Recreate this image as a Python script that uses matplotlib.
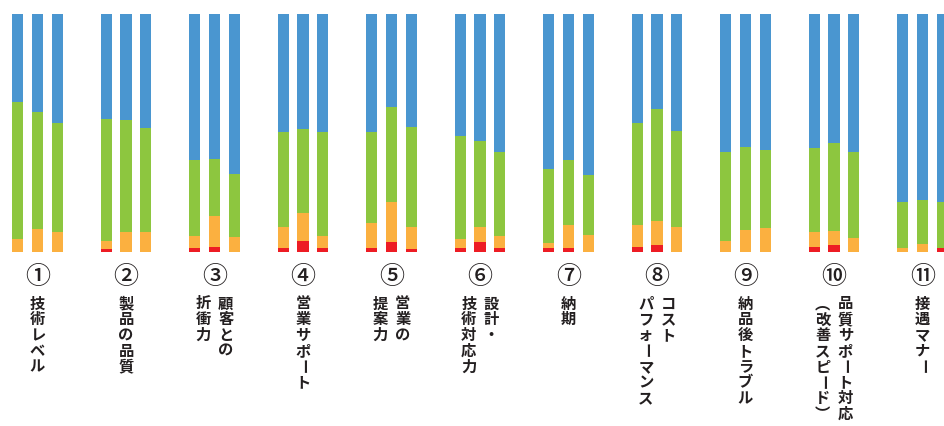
import matplotlib.pyplot as plt
import numpy as np

plt.rcParams['font.family'] = ['Noto Sans CJK JP', 'DejaVu Sans']

# circled numbers and label columns (right column first, as in vertical writing)
numbers = ['①', '②', '③', '④', '⑤', '⑥', '⑦', '⑧', '⑨', '⑩', '⑪']
labels = [
    ['技術レベル'],
    ['製品の品質'],
    ['顧客との', '折衝力'],
    ['営業サポート'],
    ['営業の', '提案力'],
    ['設計・', '技術対応力'],
    ['納期'],
    ['コスト', 'パフォーマンス'],
    ['納品後トラブル'],
    ['品質サポート対応', '︵改善スピード︶'],
    ['接遇マナー'],
]

# percentages per group, three bars each (bottom to top: red, orange, green, blue)
red = [
    (0, 0, 0), (1.3, 0, 0), (1.7, 2.1, 0), (1.7, 4.6, 1.7), (1.7, 4.2, 1.3),
    (1.7, 4.2, 1.7), (1.7, 1.7, 0), (2.1, 2.9, 0), (0, 0, 0), (2.1, 2.9, 0),
    (0, 0, 1.7),
]
orange = [
    (5.5, 9.6, 8.4), (3.3, 8.4, 8.4), (5.0, 13.0, 6.3), (8.8, 11.8, 5.0),
    (10.5, 16.8, 9.2), (3.8, 6.3, 5.0), (2.1, 9.6, 7.1), (9.2, 10.1, 10.5),
    (4.6, 9.2, 10.1), (6.3, 5.9, 5.9), (1.7, 3.4, 0),
]
green = [
    (57.4, 49.1, 45.7), (51.2, 46.9, 43.6), (31.9, 23.9, 26.4), (39.8, 35.2, 43.6),
    (38.1, 39.8, 41.9), (43.1, 36.0, 35.2), (31.0, 27.3, 25.2), (42.8, 47.0, 40.2),
    (37.3, 34.8, 32.7), (35.2, 36.9, 36.0), (19.3, 18.4, 19.3),
]
blue = [
    (37.1, 41.3, 45.9), (44.2, 44.7, 48.0), (61.4, 61.0, 67.3), (49.7, 48.4, 49.7),
    (49.7, 39.2, 47.6), (51.4, 53.5, 58.1), (65.2, 61.4, 67.7), (45.9, 40.0, 49.3),
    (58.1, 56.0, 57.2), (56.4, 54.3, 58.1), (79.0, 78.2, 79.0),
]

colors = ['#ED1C24', '#FBB040', '#8DC63F', '#4A96D0']

W, H = 944, 427
fig = plt.figure(figsize=(W / 100, H / 100), dpi=100)
# bars: bottom at y=253px, top at y=14.5px; group pitch 88.5px
ax = fig.add_axes([0, (H - 253) / H, 1, 238.5 / H])
ax.set_xlim(-37.5 / 88.5, (W - 37.5) / 88.5)
ax.set_ylim(0, 100)
ax.axis('off')

offsets = np.array([-0.225, 0, 0.225])
width = 0.125
x = np.arange(len(numbers))

for i in x:
    bottom = np.zeros(3)
    for series, c in zip([red, orange, green, blue], colors):
        vals = np.array(series[i])
        ax.bar(i + offsets, vals, width, bottom=bottom, color=c, linewidth=0)
        bottom += vals

# labels below the bars
unit = 100 / 238.5  # data units per pixel (y)
num_y = -23.5 * unit
char_y0 = -50.5 * unit
step = 15.8 * unit
col_gap = 22.5 / 88.5
rotated = {'ー': -90}

for i in x:
    ax.text(i, num_y, numbers[i], ha='center', va='center', fontsize=18,
            fontweight='medium', color='#231F20', clip_on=False)
    cols = labels[i]
    n = len(cols)
    for j, col in enumerate(cols):
        cx = i + (n - 1) / 2 * col_gap - j * col_gap
        for k, ch in enumerate(col):
            ax.text(cx, char_y0 - k * step, ch, ha='center', va='center',
                    fontsize=11, fontweight='bold', color='#231F20',
                    rotation=rotated.get(ch, 0), rotation_mode='anchor',
                    clip_on=False)

fig.savefig('out.png', dpi=100)
